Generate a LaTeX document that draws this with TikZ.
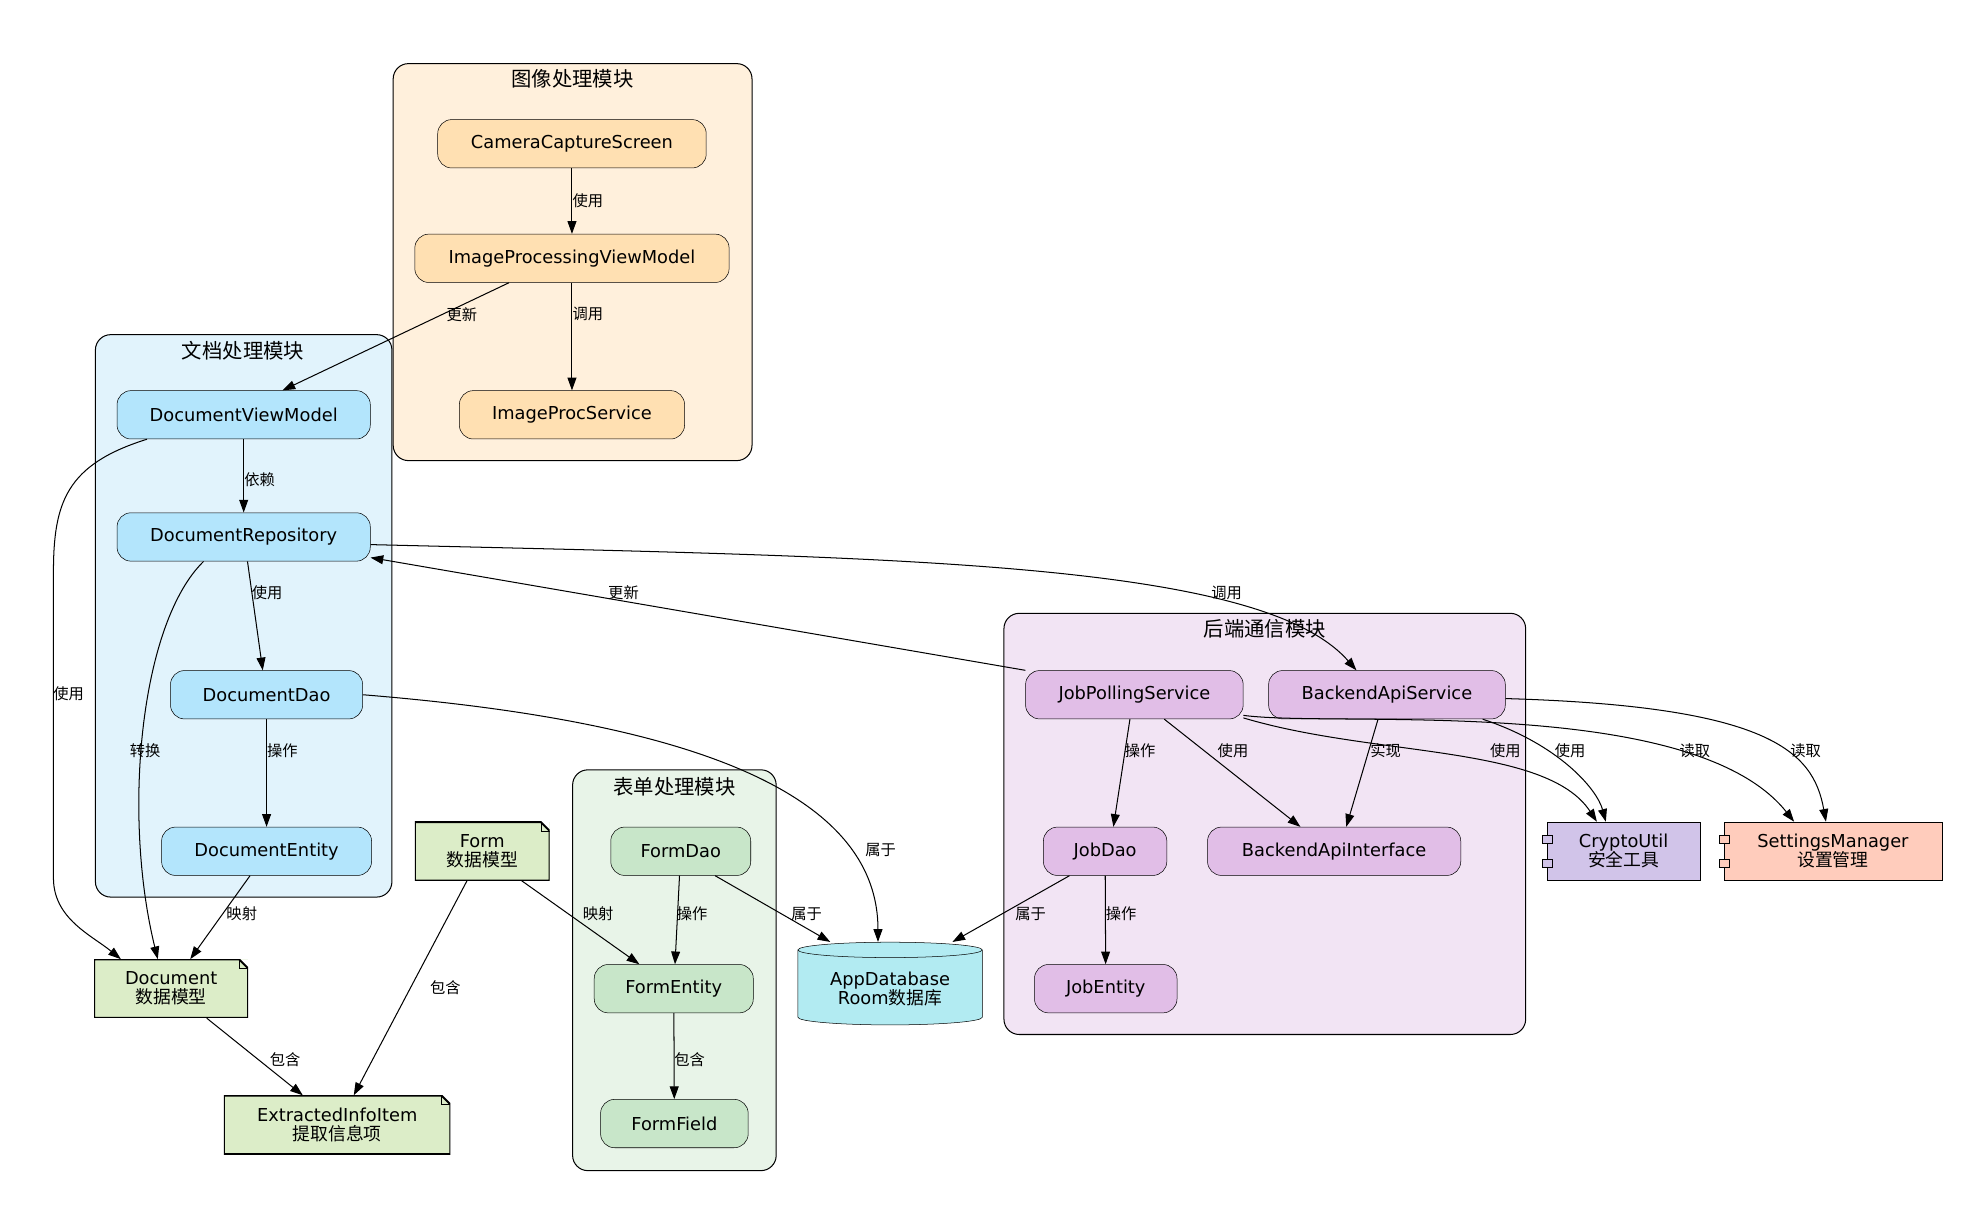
\documentclass[tikz,border=0pt]{standalone}
\usepackage{fontspec}
\setmainfont{DejaVu Sans}
\newfontfamily\cjk{Noto Sans CJK SC}
\usetikzlibrary{arrows.meta,shapes.geometric,positioning}
\definecolor{imgbg}{HTML}{FFF0DC}
\definecolor{docbg}{HTML}{E1F3FC}
\definecolor{formbg}{HTML}{E8F4E8}
\definecolor{apibg}{HTML}{F2E4F4}
\definecolor{imgnode}{HTML}{FFE0B2}
\definecolor{docnode}{HTML}{B3E5FC}
\definecolor{formnode}{HTML}{C8E6C9}
\definecolor{apinode}{HTML}{E1BEE7}
\definecolor{notegreen}{HTML}{DCEDC8}
\definecolor{dbcyan}{HTML}{B2EBF2}
\definecolor{cryptocol}{HTML}{D1C4E9}
\definecolor{settingscol}{HTML}{FFCCBC}
\begin{document}
\begin{tikzpicture}[x=1pt, y=-1pt,
    cluster/.style={draw, rounded corners=12pt, line width=0.8pt},
    title/.style={font=\cjk\fontsize{16}{18}\selectfont},
    box/.style={draw, rounded corners=11pt, minimum height=38pt, align=center,
                font=\fontsize{14}{16}\selectfont},
    note/.style={fill=notegreen, minimum height=46pt, align=center,
                 font=\fontsize{14}{15}\selectfont,
                 path picture={
                   \fill[white] ([xshift=-7pt]path picture bounding box.north east)
                     -- (path picture bounding box.north east)
                     -- ([yshift=-7pt]path picture bounding box.north east) -- cycle;
                   \draw[line width=1.6pt] (path picture bounding box.south west)
                     |- ([xshift=-7pt]path picture bounding box.north east)
                     -- ([yshift=-7pt]path picture bounding box.north east) |- cycle;
                   \draw ([xshift=-7pt]path picture bounding box.north east)
                     |- ([yshift=-7pt]path picture bounding box.north east);
                 }},
    comp/.style={draw, minimum height=46pt, align=center, font=\fontsize{14}{15}\selectfont},
    arrow/.style={-{Triangle[length=10pt,width=7pt]}, line width=0.8pt},
    lbl/.style={font=\cjk\fontsize{12}{14}\selectfont}
  ]
    \useasboundingbox (0,0) rectangle (1560,965);

    % Module clusters
    \draw[cluster, fill=imgbg] (309,50) rectangle (591,362);
    \node[title] at (450,62) {图像处理模块};
    \draw[cluster, fill=docbg] (75,263) rectangle (308,705);
    \node[title] at (191,276) {文档处理模块};
    \draw[cluster, fill=formbg] (450,605) rectangle (610,920);
    \node[title] at (530,618) {表单处理模块};
    \draw[cluster, fill=apibg] (789,482) rectangle (1199,813);
    \node[title] at (994,494) {后端通信模块};

    % Image processing
    \node[box, fill=imgnode, minimum width=211pt] (camera) at (449.5,113) {CameraCaptureScreen};
    \node[box, fill=imgnode, minimum width=247pt] (ipvm) at (449.5,203) {ImageProcessingViewModel};
    \node[box, fill=imgnode, minimum width=177pt] (ips) at (449.5,326) {ImageProcService};

    % Document processing
    \node[box, fill=docnode, minimum width=199pt] (dvm) at (191.5,326) {DocumentViewModel};
    \node[box, fill=docnode, minimum width=199pt] (repo) at (191.5,422) {DocumentRepository};
    \node[box, fill=docnode, minimum width=151pt] (docdao) at (209.5,546) {DocumentDao};
    \node[box, fill=docnode, minimum width=165pt] (docentity) at (209.5,669) {DocumentEntity};

    % Form processing
    \node[box, fill=formnode, minimum width=110pt] (formdao) at (535,669) {FormDao};
    \node[box, fill=formnode, minimum width=125pt] (formentity) at (529.5,777) {FormEntity};
    \node[box, fill=formnode, minimum width=116pt] (formfield) at (530,883) {FormField};

    % Backend communication
    \node[box, fill=apinode, minimum width=171pt] (jps) at (891.5,546) {JobPollingService};
    \node[box, fill=apinode, minimum width=186pt] (bas) at (1090,546) {BackendApiService};
    \node[box, fill=apinode, minimum width=97pt] (jobdao) at (868.5,669) {JobDao};
    \node[box, fill=apinode, minimum width=199pt] (bai) at (1048.5,669) {BackendApiInterface};
    \node[box, fill=apinode, minimum width=112pt] (jobentity) at (869,777) {JobEntity};

    % Data models
    \node[note, minimum width=106pt] (form) at (379,669) {Form\\{\cjk 数据模型}};
    \node[note, minimum width=121pt] (doc) at (134.5,777) {Document\\{\cjk 数据模型}};
    \node[note, minimum width=178pt] (info) at (265,884) {ExtractedInfoItem\\{\cjk 提取信息项}};
    \node[cylinder, shape border rotate=90, aspect=0.12, draw, fill=dbcyan,
          minimum width=145pt, minimum height=65pt, align=center,
          font=\fontsize{14}{15}\selectfont] (db) at (699.5,777) {AppDatabase\\Room{\cjk 数据库}};

    % Utilities
    \node[comp, fill=cryptocol, minimum width=120pt] (crypto) at (1276,669) {CryptoUtil\\{\cjk 安全工具}};
    \node[comp, fill=settingscol, minimum width=171pt] (settings) at (1440.5,669) {SettingsManager\\{\cjk 设置管理}};
    \foreach \c/\col in {crypto/cryptocol, settings/settingscol} {
      \draw[fill=\col] ([xshift=-4pt,yshift=-11pt]\c.north west) rectangle ++(8pt,-6pt);
      \draw[fill=\col] ([xshift=-4pt,yshift=11pt]\c.south west) rectangle ++(8pt,6pt);
    }

    % Connections
    \draw[arrow] (camera) -- (ipvm);
    \node[lbl] at (462,158) {使用};
    \draw[arrow] (ipvm) -- (ips);
    \node[lbl] at (462,247) {调用};
    \draw[arrow] ([xshift=-49.5pt]ipvm.south) -- ([xshift=30.5pt]dvm.north);
    \node[lbl] at (363,247) {更新};
    \draw[arrow] (dvm) -- (repo);
    \node[lbl] at (204,377) {依赖};
    \draw[arrow] ([xshift=3pt]repo.south) -- ([xshift=-3pt]docdao.north);
    \node[lbl] at (210,466) {使用};
    \draw[arrow] (docdao) -- (docentity);
    \node[lbl] at (222,590) {操作};
    \draw[arrow] ([xshift=-13pt]docentity.south) -- ([xshift=15pt]doc.north);
    \node[lbl] at (190,718) {映射};
    \draw[arrow] ([xshift=-76pt]dvm.south) .. controls (52,365) and (42,395) .. (42,450)
      -- (42,690) .. controls (42,722) and (72,735) .. ([xshift=-39.5pt]doc.north);
    \node[lbl] at (54,545) {使用};
    \draw[arrow] ([xshift=-31.5pt]repo.south) .. controls (110,490) and (96,640) .. ([xshift=-10.5pt]doc.north);
    \node[lbl] at (114,590) {转换};
    \draw[arrow] (docdao.east) .. controls (520,565) and (690,615) .. ([xshift=-9.5pt]db.north);
    \node[lbl] at (692,668) {属于};
    \draw[arrow] ([yshift=-6pt]repo.east) .. controls (700,438) and (990,440) .. ([xshift=-24pt]bas.north);
    \node[lbl] at (964,466) {调用};
    \draw[arrow] (jps.north west) -- ([yshift=3pt]repo.south east);
    \node[lbl] at (490,466) {更新};
    \draw[arrow] ([xshift=28pt]doc.south) -- ([xshift=-27pt]info.north);
    \node[lbl] at (224,833) {包含};
    \draw[arrow] ([xshift=-12pt]form.south) -- ([xshift=13pt]info.north);
    \node[lbl] at (350,776) {包含};
    \draw[arrow] ([xshift=31pt]form.south) -- ([xshift=-27pt]formentity.north);
    \node[lbl] at (470,718) {映射};
    \draw[arrow] (formdao) -- (formentity);
    \node[lbl] at (544,718) {操作};
    \draw[arrow] ([xshift=27pt]formdao.south) -- ([xshift=-47pt]db.north);
    \node[lbl] at (634,718) {属于};
    \draw[arrow] (formentity) -- (formfield);
    \node[lbl] at (542,833) {包含};
    \draw[arrow] ([xshift=-28pt]jobdao.south) -- ([xshift=49pt]db.north);
    \node[lbl] at (810,718) {属于};
    \draw[arrow] (jobdao) -- (jobentity);
    \node[lbl] at (881,718) {操作};
    \draw[arrow] ([xshift=-3.5pt]jps.south) -- ([xshift=6.5pt]jobdao.north);
    \node[lbl] at (896,590) {操作};
    \draw[arrow] ([xshift=23.5pt]jps.south) -- ([xshift=-26.5pt]bai.north);
    \node[lbl] at (969,590) {使用};
    \draw[arrow] ([xshift=-7pt]bas.south) -- ([xshift=9.5pt]bai.north);
    \node[lbl] at (1089,590) {实现};
    \draw[arrow] ([yshift=1pt]jps.south east) .. controls (1080,595) and (1215,585) .. ([xshift=-21pt]crypto.north);
    \node[lbl] at (1183,590) {使用};
    \draw[arrow] ([xshift=-18pt]bas.south east) .. controls (1225,585) and (1255,620) .. ([xshift=-14pt]crypto.north);
    \node[lbl] at (1234,590) {使用};
    \draw[arrow] ([yshift=3pt]jps.south east) .. controls (1050,572) and (1330,545) .. ([xshift=-30.5pt]settings.north);
    \node[lbl] at (1332,590) {读取};
    \draw[arrow] ([yshift=-3pt]bas.east) .. controls (1390,555) and (1425,590) .. ([xshift=-5.5pt]settings.north);
    \node[lbl] at (1419,590) {读取};
\end{tikzpicture}
\end{document}
